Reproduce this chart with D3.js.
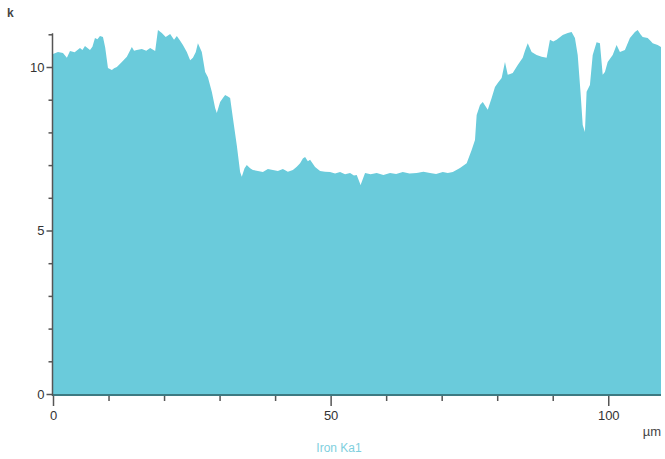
<!DOCTYPE html>
<html>
<head>
<meta charset="utf-8">
<script src="https://cdn.jsdelivr.net/npm/d3@7"></script>
<style>
  html, body { margin: 0; padding: 0; background: #ffffff; }
  svg { display: block; }
  text { font-family: "Liberation Sans", Arial, sans-serif; }
</style>
</head>
<body>
<svg id="chart" width="665" height="459"></svg>
<script>
// ---- data (position in µm, intensity in k counts) ----
const positions = [
  0, 0.9, 1.8, 2.5, 3.06, 3.9, 4.86, 5.3, 5.76, 6.66, 7.1, 7.56, 8.0, 8.46, 9.0, 9.4, 9.9, 10.6, 11.0, 11.5, 12.4, 13.3, 14.2, 14.6, 15.1, 16.0, 16.8, 17.5, 18.4,
  18.9, 19.6, 20.3, 21.1, 21.8, 22.3, 22.9, 23.4, 24.1, 24.7, 25.2, 25.7, 26.1, 26.8, 27.4, 27.9, 28.6, 29.2, 29.5, 30.1, 30.6, 31.0, 31.5, 31.9,
  32.4, 33.1, 33.7, 34.0, 34.5, 34.9, 35.5, 36.0, 36.9, 37.8, 38.7, 39.6, 40.5, 41.4, 42.3, 43.2, 43.9, 44.5, 45.0, 45.4, 45.9, 46.3, 47.2, 48.1, 49.0,
  49.9, 50.8, 51.7, 52.6, 53.5, 54.2, 54.7, 55.4, 56.2, 57.2, 58.3, 59.5, 60.7, 61.8, 63.0, 64.2, 65.5, 66.7, 67.9, 69.0, 70.2,
  71.1, 72.0, 73.3, 74.5, 75.4, 76.0, 76.3, 76.9, 77.4, 78.3, 79.0, 79.6, 80.1, 80.8, 81.4, 81.9, 82.8, 83.7, 84.6, 85.0, 85.5,
  86.2, 87.1, 88.0, 88.9, 89.5, 90.1, 90.7, 91.8, 92.7, 93.4, 94.0, 94.5, 95.0, 95.4, 95.8, 96.1, 96.7, 97.2, 97.9, 98.5, 99.0,
  99.4, 99.9, 100.8, 101.5, 102.1, 103.0, 103.9, 104.8, 105.3, 105.8, 106.2, 107.1, 107.6, 108.0, 108.9, 109.5
];
const ironKa1 = [
  10.40, 10.46, 10.43, 10.28, 10.49, 10.45, 10.58, 10.52, 10.64, 10.52, 10.62, 10.89, 10.85, 10.95, 10.92, 10.60, 9.97, 9.91, 9.96, 10.00, 10.15, 10.31, 10.61, 10.50, 10.52, 10.55, 10.50, 10.58, 10.49,
  11.13, 11.04, 10.92, 11.01, 10.83, 10.95, 10.80, 10.67, 10.46, 10.21, 10.28, 10.45, 10.73, 10.46, 9.85, 9.69, 9.24, 8.75, 8.59, 8.93, 9.05, 9.14, 9.10, 9.05,
  8.44, 7.61, 6.79, 6.64, 6.90, 7.00, 6.90, 6.85, 6.82, 6.79, 6.88, 6.85, 6.82, 6.88, 6.80, 6.85, 6.95, 7.06, 7.20, 7.25, 7.12, 7.16, 6.94, 6.82, 6.80,
  6.79, 6.74, 6.79, 6.72, 6.76, 6.68, 6.70, 6.39, 6.76, 6.72, 6.76, 6.70, 6.76, 6.73, 6.79, 6.74, 6.76, 6.80, 6.76, 6.73, 6.79,
  6.76, 6.79, 6.91, 7.06, 7.46, 7.77, 8.53, 8.84, 8.93, 8.69, 9.05, 9.39, 9.51, 9.66, 10.15, 9.76, 9.82, 10.06, 10.28, 10.50, 10.73,
  10.46, 10.37, 10.31, 10.28, 10.83, 10.78, 10.83, 10.98, 11.04, 11.07, 10.89, 10.37, 9.24, 8.23, 8.01, 9.24, 9.45, 10.37, 10.76, 10.73, 9.76,
  9.85, 10.15, 10.37, 10.67, 10.46, 10.52, 10.89, 11.07, 11.13, 11.00, 10.92, 10.89, 10.80, 10.73, 10.67, 10.61
];
const yMajorTicks = [0, 5, 10];
const yMinorTicks = [1, 2, 3, 4, 6, 7, 8, 9, 11];
const xMajorTicks = [0, 50, 100];
const xMinorTicks = [10, 20, 30, 40, 60, 70, 80, 90];
const seriesName = "Iron Ka1";
const yUnit = "k";
const xUnit = "µm";

// ---- layout ----
const svg = d3.select("#chart");
const x = d3.scaleLinear().domain([0, 109.5]).range([53, 661]);
const y = d3.scaleLinear().domain([0, 11]).range([394, 34.3]);

const data = positions.map((p, i) => ({ p, v: ironKa1[i] }));

// area
const area = d3.area()
  .x(d => x(d.p))
  .y0(y(0))
  .y1(d => y(d.v));

svg.append("path")
  .datum(data)
  .attr("d", area)
  .attr("fill", "#6acbdb");

// x axis baseline (dark teal)
svg.append("line")
  .attr("x1", x(0)).attr("x2", x(109.5))
  .attr("y1", y(0) + 1).attr("y2", y(0) + 1)
  .attr("stroke", "#3d7a82").attr("stroke-width", 2);

// y axis
const axisColor = "#555";
const labelFont = "Liberation Sans, Arial, sans-serif";
const yAxisMajor = d3.axisLeft(y).tickValues(yMajorTicks).tickSize(6).tickPadding(2).tickFormat(d3.format("d"));
const gy = svg.append("g").attr("transform", `translate(${x(0) - 0.5},0)`).call(yAxisMajor);
gy.select(".domain").attr("d", `M0,${y(0) + 2}V${y(11) - 1}`).attr("stroke", axisColor).attr("stroke-width", 1.5);
gy.selectAll(".tick line").attr("stroke", axisColor).attr("stroke-width", 1.5);
gy.selectAll(".tick text").attr("fill", "#333").attr("font-size", 13).attr("font-family", labelFont);

const yAxisMinor = d3.axisLeft(y).tickValues(yMinorTicks).tickSize(4).tickFormat("");
const gym = svg.append("g").attr("transform", `translate(${x(0) - 0.5},0)`).call(yAxisMinor);
gym.select(".domain").remove();
gym.selectAll(".tick line").attr("stroke", axisColor).attr("stroke-width", 1.5);

// x axis ticks
const xAxisMajor = d3.axisBottom(x).tickValues(xMajorTicks).tickSize(10).tickPadding(5).tickFormat(d3.format("d"));
const gx = svg.append("g").attr("transform", `translate(0,${y(0) + 2})`).call(xAxisMajor);
gx.select(".domain").remove();
gx.selectAll(".tick line").attr("stroke", axisColor).attr("stroke-width", 1.5);
gx.selectAll(".tick text").attr("fill", "#333").attr("font-size", 13).attr("font-family", labelFont);

const xAxisMinor = d3.axisBottom(x).tickValues(xMinorTicks).tickSize(5).tickFormat("");
const gxm = svg.append("g").attr("transform", `translate(0,${y(0) + 2})`).call(xAxisMinor);
gxm.select(".domain").remove();
gxm.selectAll(".tick line").attr("stroke", axisColor).attr("stroke-width", 1.5);

// unit labels
svg.append("text").attr("x", 7).attr("y", 17).text(yUnit)
  .attr("font-size", 12).attr("font-weight", "bold").attr("fill", "#444");
svg.append("text").attr("x", 652).attr("y", 436).attr("text-anchor", "middle").text(xUnit)
  .attr("font-size", 13).attr("fill", "#444");

// legend
svg.append("text").attr("x", 339).attr("y", 452).attr("text-anchor", "middle").text(seriesName)
  .attr("font-size", 12).attr("fill", "#7fd0de");
</script>
</body>
</html>
